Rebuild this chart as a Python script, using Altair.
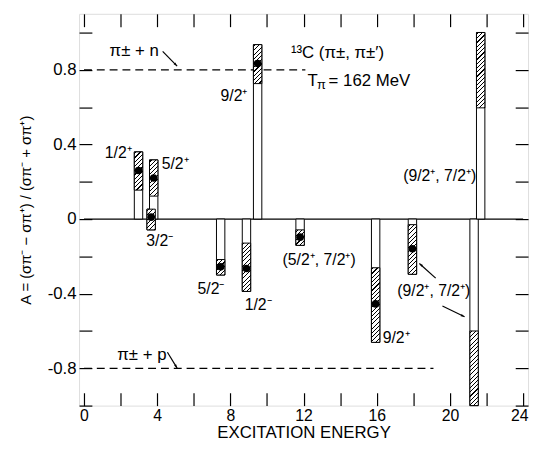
import altair as alt
import pandas as pd
import math

FONT = "Liberation Sans"

# ---------------- data ----------------
energy   = [2.98, 3.67, 3.81, 7.47, 8.88, 9.49, 11.81, 15.94, 17.95, 21.32, 21.68]
asym     = [0.26, 0.01, 0.22, -0.256, -0.265, 0.834, -0.097, -0.455, -0.159, None, None]
err_low  = [0.155, -0.058, 0.123, -0.300, -0.388, 0.726, -0.141, -0.661, -0.296, -1.0, 0.596]
err_high = [0.360, 0.053, 0.317, -0.217, -0.129, 0.935, -0.058, -0.261, -0.030, -0.60, 1.0]

threshold_A   = [0.8, -0.8]
threshold_end = [12.1, 19.1]

x_ticks = [0, 2, 4, 6, 8, 10, 12, 14, 16, 18, 20, 22, 24]
y_ticks = [-1.0, -0.8, -0.6, -0.4, -0.2, 0, 0.2, 0.4, 0.6, 0.8, 1.0]

# annotations: text, x, y
center_labels = [
    ("1/2⁺", 1.87, 0.354),
    ("5/2⁺", 4.98, 0.296),
    ("3/2⁻", 4.14, -0.116),
    ("9/2⁺", 8.20, 0.661),
    ("5/2⁻", 6.94, -0.376),
    ("1/2⁻", 9.52, -0.463),
    ("(5/2⁺, 7/2⁺)", 12.85, -0.222),
    ("9/2⁺", 17.06, -0.640),
    ("(9/2⁺, 7/2⁺)", 19.12, -0.386),
    ("(9/2⁺, 7/2⁺)", 19.44, 0.228),
]
left_labels = [
    ("π± + n", 1.40, 0.873),
    ("π± + p", 1.82, -0.757),
    ("¹³C (π±, π±′)", 11.31, 0.862),
    ("T", 12.21, 0.714),
    ("= 162 MeV", 13.37, 0.714),
]
sub_labels = [("π", 12.74, 0.698)]
arrows = [  # x1, y1, x2, y2 (tip at x2, y2)
    (4.30, 0.899, 5.09, 0.820),
    (4.56, -0.714, 5.09, -0.799),
    (19.22, -0.317, 18.33, -0.238),
    (19.59, -0.466, 20.80, -0.524),
]

# ---------------- layout ----------------
W, H = 455, 397
XDOM = [0, 24]
YDOM = [-1.0, 1.1]
PX_X = W / (XDOM[1] - XDOM[0])
PX_Y = H / (YDOM[1] - YDOM[0])
BAR_W = 8.5

xs = alt.Scale(domain=XDOM, nice=False, zero=False)
ys = alt.Scale(domain=YDOM, nice=False, zero=False)

common_axis = dict(tickSize=13, offset=-13, domain=False, grid=False,
                   tickColor="black", tickWidth=1.2, labelColor="black",
                   labelFont=FONT, labelOverlap=False,
                   labelFlush=False, titleFont=FONT, titleColor="black",
                   titleFontWeight="normal")

x_bottom = alt.Axis(orient="bottom", values=x_ticks, labelPadding=2, labelFontSize=16,
                    labelExpr="datum.value % 4 == 0 ? datum.label : ''",
                    labelOffset={"condition": {"test": "datum.value == 24", "value": -4}, "value": 0},
                    title="EXCITATION ENERGY", titleFontSize=17, titlePadding=1,
                    **common_axis)
y_left = alt.Axis(orient="left", values=y_ticks, labelPadding=3, labelFontSize=17,
                  labelExpr="abs(round(datum.value*10)) % 4 == 0 ? (datum.value == 0 ? '0' : (datum.value < 0 ? '-' : '') + format(abs(datum.value), '.1f')) : ''",
                  title="A = (σπ⁻ − σπ⁺) / (σπ⁻ + σπ⁺)", titleFontSize=15, titlePadding=14,
                  **common_axis)
x_top = alt.Axis(orient="top", values=x_ticks, labels=False, title=None, **common_axis)
y_right = alt.Axis(orient="right", values=y_ticks, labels=False, title=None, **common_axis)

# ---------------- layers ----------------
zero_df = pd.DataFrame({"x": [XDOM[0]], "x2": [XDOM[1]], "y": [0.0]})
zero_layer = alt.Chart(zero_df).mark_rule(color="black", strokeWidth=1.2).encode(
    x=alt.X("x:Q", scale=xs, axis=x_bottom),
    x2="x2:Q",
    y=alt.Y("y:Q", scale=ys, axis=y_left),
)

dash_df = pd.DataFrame({"x": [0.0, 0.0], "x2": threshold_end, "y": threshold_A})
dash_layer = alt.Chart(dash_df).mark_rule(color="black", strokeWidth=1.2, strokeDash=[8, 5]).encode(
    x=alt.X("x:Q", scale=xs, axis=x_top),
    x2="x2:Q",
    y=alt.Y("y:Q", scale=ys, axis=y_right),
)

bars = pd.DataFrame({"e": energy, "a": asym, "lo": err_low, "hi": err_high})
bars["olo"] = bars["lo"].clip(upper=0)
bars["ohi"] = bars["hi"].clip(lower=0)

outline = alt.Chart(bars).mark_bar(size=BAR_W, fill="white", stroke="black", strokeWidth=1).encode(
    x=alt.X("e:Q", scale=xs, axis=None),
    y=alt.Y("olo:Q", scale=ys, axis=None),
    y2="ohi:Q",
)


def hatch_fill(h_px, w_px, period=4.3, lw=1.15):
    L = w_px + h_px
    m = L / (w_px ** 2 + h_px ** 2)
    stops = [alt.GradientStop(offset=0, color="white")]
    i = 0
    while True:
        s = (i * period + 1.5) / L
        e = s + lw / L
        if s >= 1:
            break
        e = min(e, 1.0)
        stops += [alt.GradientStop(offset=s, color="white"),
                  alt.GradientStop(offset=s, color="black"),
                  alt.GradientStop(offset=e, color="black"),
                  alt.GradientStop(offset=e, color="white")]
        i += 1
    stops.append(alt.GradientStop(offset=1, color="white"))
    return alt.LinearGradient(gradient="linear", x1=0, y1=0, x2=m * w_px, y2=m * h_px, stops=stops)


hatch_layers = []
for i in range(len(energy)):
    h_px = (err_high[i] - err_low[i]) * PX_Y
    sub = bars.iloc[[i]]
    hatch_layers.append(
        alt.Chart(sub).mark_bar(size=BAR_W, fill=hatch_fill(h_px, BAR_W), stroke="black", strokeWidth=1).encode(
            x=alt.X("e:Q", scale=xs, axis=None),
            y=alt.Y("lo:Q", scale=ys, axis=None),
            y2="hi:Q",
        )
    )

dots = alt.Chart(bars.dropna(subset=["a"])).mark_point(
    shape="circle", filled=True, color="black", opacity=1, size=60).encode(
    x=alt.X("e:Q", scale=xs, axis=None),
    y=alt.Y("a:Q", scale=ys, axis=None),
)

cdf = pd.DataFrame(center_labels, columns=["t", "x", "y"])
ctext = alt.Chart(cdf).mark_text(font=FONT, fontSize=16, align="center", baseline="middle", color="black").encode(
    x=alt.X("x:Q", scale=xs, axis=None), y=alt.Y("y:Q", scale=ys, axis=None), text="t:N")

ldf = pd.DataFrame(left_labels, columns=["t", "x", "y"])
ltext = alt.Chart(ldf).mark_text(font=FONT, fontSize=17, align="left", baseline="alphabetic", color="black").encode(
    x=alt.X("x:Q", scale=xs, axis=None), y=alt.Y("y:Q", scale=ys, axis=None), text="t:N")

sdf = pd.DataFrame(sub_labels, columns=["t", "x", "y"])
stext = alt.Chart(sdf).mark_text(font=FONT, fontSize=13, align="left", baseline="alphabetic", color="black").encode(
    x=alt.X("x:Q", scale=xs, axis=None), y=alt.Y("y:Q", scale=ys, axis=None), text="t:N")

adf = pd.DataFrame(arrows, columns=["x1", "y1", "x2", "y2"])
adf["ang"] = [(math.degrees(math.atan2((r.x2 - r.x1) * PX_X, (r.y2 - r.y1) * PX_Y))) % 360
              for r in adf.itertuples()]
arrow_lines = alt.Chart(adf).mark_rule(color="black", strokeWidth=1.2).encode(
    x=alt.X("x1:Q", scale=xs, axis=None), y=alt.Y("y1:Q", scale=ys, axis=None),
    x2="x2:Q", y2="y2:Q")
arrow_heads = alt.Chart(adf).mark_point(
    shape="M0,0L-0.7,2.2L0.7,2.2Z", filled=True, color="black", opacity=1, size=12).encode(
    x=alt.X("x2:Q", scale=xs, axis=None), y=alt.Y("y2:Q", scale=ys, axis=None),
    angle=alt.Angle("ang:Q", scale=None))

chart = alt.layer(
    zero_layer, dash_layer, outline, *hatch_layers, dots, ctext, ltext, stext, arrow_lines, arrow_heads
).resolve_axis(x="independent", y="independent").properties(
    width=W, height=H,
    padding={"left": 72, "top": 3, "right": 4, "bottom": 36},
    autosize=alt.AutoSizeParams(type="none"),
).configure_view(stroke="black", strokeWidth=1.3).configure(background="white")

chart.save("out.html", embed_options={"renderer": "svg", "actions": False})
